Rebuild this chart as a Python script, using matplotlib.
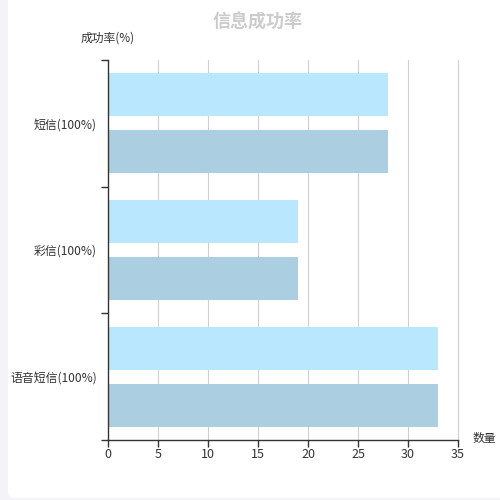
import matplotlib
matplotlib.use("Agg")
import matplotlib.pyplot as plt
from matplotlib.patches import FancyBboxPatch
from matplotlib.ticker import FixedLocator
import numpy as np

plt.rcParams['font.family'] = ['Noto Sans CJK SC', 'DejaVu Sans']

categories = ['短信(100%)', '彩信(100%)', '语音短信(100%)']
series_a = [28, 19, 33]
series_b = [28, 19, 33]
x_ticks = [0, 5, 10, 15, 20, 25, 30, 35]
title = '信息成功率'
y_name = '成功率(%)'
x_name = '数量'

fig = plt.figure(figsize=(5, 5), dpi=100, facecolor='#f3f3f8')
card = FancyBboxPatch((8/500, 2/500), 1.2, 1.2, boxstyle='round,pad=0,rounding_size=0.012',
                      transform=fig.transFigure, facecolor='white', edgecolor='none', zorder=-10)
fig.patches.append(card)

ax = fig.add_axes([108/500, 60/500, 350/500, 380/500])
ax.set_zorder(5)
ax.set_facecolor('none')

pos = np.arange(len(categories))
h = 0.34
off = 0.225
ax.barh(pos - off, series_a, height=h, color='#b9e8fe', zorder=2)
ax.barh(pos + off, series_b, height=h, color='#abcfe1', zorder=2)

ax.set_xlim(0, 35)
ax.set_ylim(len(categories) - 0.5, -0.5)
ax.set_xticks(x_ticks)
ax.set_xticklabels([str(t) for t in x_ticks])
for t in x_ticks[1:]:
    ax.axvline(t, color='#d0d0d0', lw=0.8, zorder=1, clip_on=False)

ax.yaxis.set_major_locator(FixedLocator(np.arange(-0.5, len(categories), 1.0)))
ax.yaxis.set_major_formatter(plt.NullFormatter())
ax.yaxis.set_minor_locator(FixedLocator(pos))
ax.set_yticklabels(categories, minor=True)
ax.tick_params(axis='y', which='minor', length=0, pad=8, labelsize=8.6, labelcolor='#333333')
ax.tick_params(axis='y', which='major', length=5, width=1, color='#333333')
ax.tick_params(axis='x', length=5, width=1, color='#333333', labelsize=9, labelcolor='#333333', pad=1)

for s in ['top', 'right']:
    ax.spines[s].set_visible(False)
for s in ['left', 'bottom']:
    ax.spines[s].set_color('#333333')
    ax.spines[s].set_linewidth(1)

fig.text(258/500, 1 - 22/500, title, ha='center', va='center', fontsize=13, fontweight='bold', color='#cccccc')
fig.text(108/500, 1 - 38/500, y_name, ha='center', va='center', fontsize=8.5, color='#333333')
fig.text(473/500, 1 - 438/500, x_name, ha='left', va='center', fontsize=8.5, color='#333333')

fig.savefig('out.png', dpi=100, facecolor=fig.get_facecolor())
